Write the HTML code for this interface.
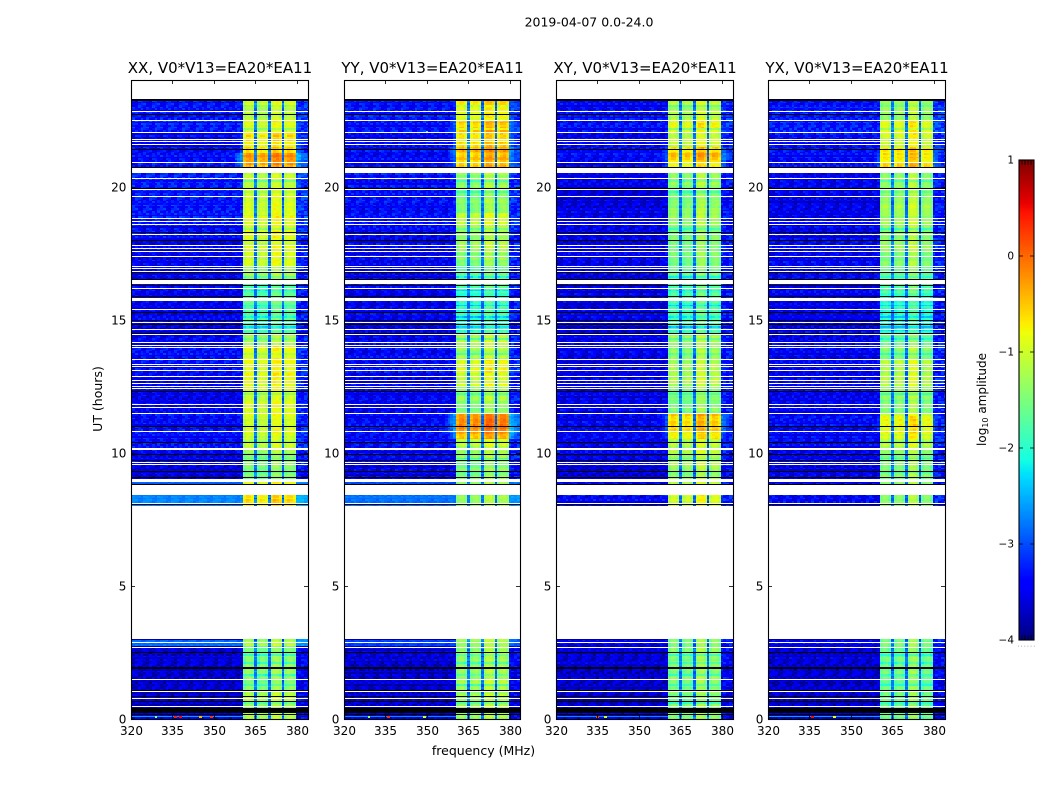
<!DOCTYPE html>
<html>
<head>
<meta charset="utf-8">
<title>2019-04-07 0.0-24.0</title>
<style>
html,body{margin:0;padding:0;background:#fff;width:1050px;height:800px;overflow:hidden}
svg{display:block}
text{font-family:"DejaVu Sans","Liberation Sans",sans-serif;fill:#000}
</style>
</head>
<body>
<svg id="figure" xmlns="http://www.w3.org/2000/svg" width="1050" height="800" viewBox="0 0 1050 800">
  <text x="589" y="26.5" font-size="12.5" text-anchor="middle">2019-04-07 0.0-24.0</text>
  <text x="483.5" y="755" font-size="12.5" text-anchor="middle">frequency (MHz)</text>
  <text x="0" y="0" font-size="12.5" text-anchor="middle" transform="translate(102,399) rotate(-90)">UT (hours)</text>
  <text x="0" y="0" font-size="12" text-anchor="middle" transform="translate(986,399.5) rotate(-90)">log<tspan font-size="8" dy="2">10</tspan><tspan dy="-2"> amplitude</tspan></text>
  <g id="panels"></g>
  <g id="colorbar"></g>
</svg>
<script>
// ---- chart data ----
const panelLabels = ['XX', 'YY', 'XY', 'YX'];
const baselineLabel = 'V0*V13=EA20*EA11';
const xTickValues = [320, 335, 350, 365, 380];
const yTickValues = [0, 5, 10, 15, 20];
const colorbarTickValues = [-4, -3, -2, -1, 0, 1];

// Time slots (UT hours): start of each slot; the last value closes the final slot.
const slotEdges = [0,1,2,2.72,3,8,8.5,9,9.5,10,10.25,10.5,10.75,11.25,11.5,12,12.5,13,13.5,14,14.5,15,15.5,16,16.5,17,17.5,18,18.5,19,19.5,20,20.75,21,21.25,21.5,22,22.5,23,23.3];
const slotSkipped = 4; // slot starting at 3 h holds no data

// Sub-band log10 amplitude per slot (slot at 3 h excluded).
const bandLevelsXX = [-1.3,-1.5,-1.55,-1.35,-.75,-.85,-1.55,-1.5,-1.3,-1.15,-1.1,-1.05,-1.05,-1.05,-1.05,-.95,-.95,-.95,-1.25,-1.9,-1.8,-1.75,-1.85,-1.4,-1.05,-1.05,-1,-1,-1.05,-1.05,-1.2,-.45,-.3,-.75,-.8,-1,-1.2,-1.05];
const bandLevelsYY = [-1.35,-1.35,-1.4,-1.35,-1.4,-1.5,-1.5,-1.5,-1.3,-1.1,-.45,-.25,-.3,-1.45,-1.4,-1.05,-1,-1.3,-1.3,-2,-2,-2,-1.9,-1.75,-1.5,-1.35,-1.35,-1.15,-1.45,-1.55,-1.4,-.6,-.55,-.45,-.75,-.6,-.95,-.75];
const bandLevelsXY = [-1.5,-1.5,-1.5,-1.45,-1,-1.2,-1.35,-1.3,-1.2,-1.1,-.85,-.65,-.6,-1.55,-1.5,-1.25,-1.25,-1.4,-1.35,-1.9,-1.85,-1.85,-1.75,-1.7,-1.55,-1.5,-1.55,-1.35,-1.45,-1.5,-1.4,-.75,-.55,-.7,-1.1,-.95,-1.25,-1.15];
const bandLevelsYX = [-1.6,-1.6,-1.6,-1.55,-1.45,-1.4,-1.5,-1.5,-1.3,-1.2,-1,-.85,-.95,-1.5,-1.4,-1.2,-1.2,-1.5,-1.6,-2.1,-2,-2,-1.7,-1.65,-1.5,-1.4,-1.45,-1.3,-1.3,-1.4,-1.4,-.7,-.7,-.8,-1.05,-.95,-1.35,-1.3];

// Off-band background log10 amplitude per slot.
const bgLevelsXX = [-3.6,-3.6,-3.55,-2.8,-2.65,-2.8,-3.5,-3.4,-3.35,-3.3,-3.3,-3.3,-3.35,-3.4,-3.4,-3.4,-3.3,-3.3,-3.35,-3.45,-3.4,-3.45,-3.4,-3.4,-3.4,-3.4,-3.3,-3.25,-3.25,-3.2,-3.2,-3.3,-3.3,-3.35,-3.4,-3.2,-3.25,-3.3];
const bgLevelsYY = [-3.6,-3.6,-3.55,-3,-2.75,-2.95,-3.45,-3.4,-3.35,-3.3,-3.3,-3.3,-3.35,-3.4,-3.4,-3.4,-3.35,-3.35,-3.4,-3.45,-3.4,-3.45,-3.4,-3.4,-3.4,-3.4,-3.35,-3.3,-3.3,-3.3,-3.3,-3.35,-3.35,-3.3,-3.4,-3.25,-3.25,-3.3];
const bgLevelsXY = [-3.6,-3.6,-3.55,-3.4,-3.35,-3.4,-3.5,-3.45,-3.4,-3.4,-3.4,-3.4,-3.4,-3.45,-3.45,-3.45,-3.45,-3.45,-3.45,-3.5,-3.45,-3.5,-3.45,-3.45,-3.45,-3.45,-3.45,-3.45,-3.5,-3.5,-3.45,-3.4,-3.35,-3.35,-3.4,-3.3,-3.3,-3.35];
const bgLevelsYX = [-3.6,-3.6,-3.55,-3.4,-3.35,-3.4,-3.45,-3.4,-3.4,-3.35,-3.35,-3.35,-3.35,-3.4,-3.4,-3.4,-3.4,-3.4,-3.4,-3.45,-3.4,-3.45,-3.4,-3.4,-3.4,-3.4,-3.4,-3.4,-3.45,-3.45,-3.4,-3.35,-3.3,-3.3,-3.35,-3.2,-3.2,-3.3];

// Per-panel offset of each of the four sub-bands relative to the slot level.
const subBandOffsetsXX = [0,-.1,.12,.02];
const subBandOffsetsYY = [-.05,-.05,.15,.05];
const subBandOffsetsXY = [-.05,-.1,.15,0];
const subBandOffsetsYX = [-.05,-.05,.18,-.1];

// Hours where the sub-bands dim briefly (dark wisps across the bands) and how far, in dex.
const bandDipHours = [.62,1.25,1.65,2.12,2.4,8.95,9.3,9.8,10.4,12.2,13.7,14.25,14.7,15.1,15.55,16.1,16.6,18.4,19.75,20.2,22.15,23.05];
const bandDipDepth = .4;

// Spectral layout, one channel = 1 MHz starting at 320 MHz.
const subBandChannels = [[41,44],[46,49],[51,54],[56,59]];
const subBandShape = [-.05,.12,.12,-.02];
const gapChannels = [45,50,55];
const gapLevels = [-2.8,-2.85,-2.9];
const leftRolloff = [3.45,3.35,3.15,2.95,2.75,2.55,2.35];
const rightRolloff = [2.15,2.25,2.45,2.55,2.65];
const channelCount = 64;
const rowsPerHour = 16;

// Estimated speckle read from the image grain.
const grain = [.12,-.2,.31,-.05,-.28,.18,.04,-.33,.24,-.11,.29,-.16,.07,-.24,.35,-.02,-.3,.15,.21,-.09,-.19,.26,-.27,.1,.02,-.14,.33,-.22,.08,-.06,.17,-.34,.27,.01,-.12];
const rowGrain = [.04,-.09,.12,-.02,.07,-.12,.1,-.05,.01,.09,-.1,.06,-.07,.13,-.03,-.11,.08];

// Flagged rows, hours.
const whiteLineHours = [22.83,22.5,22.02,21.78,21.68,21.58,20.91,20.29,19.9,19.62,18.81,18.7,18.57,18.19,17.77,17.66,17.56,17.36,17.01,16.91,16.83,16.16,15.37,14.88,14.62,14.44,14.13,14.05,13.96,13.49,13.33,13.23,13.08,12.85,12.71,12.59,12.5,12.4,11.81,11.7,11.46,10.81,9.64,9.57,2.89,1.47,1.03,.76,.46];
const whiteBlockStarts = [20.5,16.35,15.69,10.12,8.89,8.41,8.08,3,2.65];
const whiteBlockEnds = [20.69,16.47,15.83,10.19,9.03,8.77,8.12,8,2.72];
const blackLineHours = [22.71,21.38,20.72,19.94,18.28,17.98,16.76,16.51,16.29,15.86,15.29,14.98,14.83,14.48,12.3,11,10.37,9.95,9.72,9.31,9.06,8.8,8.06,2.52,1.09,.85,.66,.19];
const blackBlockStarts = [23.22,1.86,.23];
const blackBlockEnds = [23.3,1.96,.43];

// Narrow off-band rows differing from their surroundings: panel, hour from, hour to, level.
const brightRowPanels = [0,1,2,3,1,3,0,1,2,3];
const brightRowFrom = [.07,.07,.07,.07,20.7,20.7,2.95,2.95,2.95,2.95];
const brightRowTo = [.11,.11,.11,.11,20.74,20.74,3,3,3,3];
const brightRowLevels = [-2.6,-2.7,-2.7,-2.6,-2.7,-2.7,-3.9,-3.9,-3.9,-3.9];

// Isolated hot pixels: panel, hour, MHz, level.
const spikePanels = [0,0,0,0,0,1,1,1,2,2,3,3,1,1,3,0,1];
const spikeHours = [.08,.08,.08,.08,.08,.08,.08,.08,.08,.08,.08,.08,20.72,20.72,20.72,20.72,22.05];
const spikeFreqs = [329,336,338,345,349,329,336,349,335,338,336,344,335,347,335,336,350];
const spikeLevels = [-1.2,.4,.5,-.4,.3,-1.2,.3,-1,.2,-1,.5,-.8,.7,-1.6,.5,-.6,-1.9];

// ---- assembled by panel ----
const bandLevels = [bandLevelsXX, bandLevelsYY, bandLevelsXY, bandLevelsYX];
const bgLevels = [bgLevelsXX, bgLevelsYY, bgLevelsXY, bgLevelsYX];
const subBandOffsets = [subBandOffsetsXX, subBandOffsetsYY, subBandOffsetsXY, subBandOffsetsYX];

// ---- layout ----
const panelLefts = [131, 344, 556, 768];
const panelWidths = [177, 176, 177, 177];
const axisTop = 80, axisBottom = 719;
const cbLeft = 1019, cbRight = 1034, cbTop = 160, cbBottom = 640;
const SVGNS = 'http://www.w3.org/2000/svg';

function xScale(p, f) { return panelLefts[p] + (f - 320) / 64 * 177; }
function yScale(h) { return axisBottom - h / 24 * (axisBottom - axisTop); }
function cbScale(v) { return cbBottom - (v + 4) / 5 * (cbBottom - cbTop); }

function jetChannel(t, pts) {
  for (let i = 1; i < pts.length; i++) {
    if (t <= pts[i][0]) {
      const a = pts[i - 1], b = pts[i];
      return a[1] + (b[1] - a[1]) * (t - a[0]) / (b[0] - a[0]);
    }
  }
  return pts[pts.length - 1][1];
}
const jetR = [[0,0],[.35,0],[.66,1],[.89,1],[1,.5]];
const jetG = [[0,0],[.125,0],[.375,1],[.64,1],[.91,0],[1,0]];
const jetB = [[0,.5],[.11,1],[.34,1],[.65,0],[1,0]];
function jetColor(t) {
  t = Math.max(0, Math.min(1, t));
  return 'rgb(' + Math.round(255 * jetChannel(t, jetR)) + ',' + Math.round(255 * jetChannel(t, jetG)) + ',' + Math.round(255 * jetChannel(t, jetB)) + ')';
}
function levelColor(v) { return jetColor((v + 4) / 5); }

function slotIndex(h) {
  let s = 0;
  for (let i = 0; i < slotEdges.length - 1; i++) { if (h >= slotEdges[i]) s = i; }
  if (s === slotSkipped) return -1;
  return s > slotSkipped ? s - 1 : s;
}

function isDipRow(h0, h1) {
  return bandDipHours.some(function (d) { return d >= h0 && d < h1; });
}

function cellLevel(p, s, r, i) {
  const level = bandLevels[p][s], bg = bgLevels[p][s];
  const g = grain[(i * 7 + r * 13 + p * 5) % grain.length];
  const rg = rowGrain[(r * 3 + p) % rowGrain.length];
  const dip = isDipRow(r / rowsPerHour, (r + 1) / rowsPerHour);
  for (let b = 0; b < subBandChannels.length; b++) {
    const c = subBandChannels[b];
    if (i >= c[0] && i <= c[1]) {
      return level + subBandOffsets[p][b] + subBandShape[i - c[0]] + g * .28 + rg * .8 - (dip ? bandDipDepth : 0);
    }
  }
  const gi = gapChannels.indexOf(i);
  if (gi >= 0) return gapLevels[gi] + g * .5 + rg;
  const quiet = bg < -3 ? 1 : .35;
  let v = bg - .08 + g * .85 * quiet + rg * .5 * quiet;
  if (i >= 34 && i <= 40) v = Math.max(v, level - leftRolloff[i - 34] + g * .4);
  if (i >= 60) v = Math.max(v + .2, level - rightRolloff[i - 60] + g * .4);
  return v;
}

function drawPanel(p) {
  const root = document.getElementById('panels');
  const gp = document.createElementNS(SVGNS, 'g');
  
  
  root.appendChild(gp);

  const clipId = 'clip-' + p;
  const clip = document.createElementNS(SVGNS, 'clipPath');
  clip.setAttribute('id', clipId);
  const clipRect = document.createElementNS(SVGNS, 'rect');
  clipRect.setAttribute('x', panelLefts[p]);
  clipRect.setAttribute('y', axisTop);
  clipRect.setAttribute('width', panelWidths[p]);
  clipRect.setAttribute('height', axisBottom - axisTop);
  clip.appendChild(clipRect);
  gp.appendChild(clip);

  const cells = document.createElementNS(SVGNS, 'g');
  cells.setAttribute('clip-path', 'url(#' + clipId + ')');
  cells.setAttribute('shape-rendering', 'crispEdges');
  
  
  gp.appendChild(cells);

  // Heatmap cells, grouped into one path per colour step.
  const buckets = {};
  const hourTop = slotEdges[slotEdges.length - 1];
  const rowTotal = Math.ceil(hourTop * rowsPerHour);
  for (let r = 0; r < rowTotal; r++) {
    const h0 = r / rowsPerHour, h1 = Math.min((r + 1) / rowsPerHour, hourTop);
    const s = slotIndex(h0);
    if (s < 0 || h0 >= 3 && h0 < 8) continue;
    const y0 = Math.round(yScale(h1)), y1 = Math.round(yScale(h0));
    for (let i = 0; i <= channelCount; i++) {
      const v = cellLevel(p, s, r, i);
      const x0 = Math.round(xScale(p, 319.5 + i)), x1 = Math.round(xScale(p, 320.5 + i));
      const key = Math.round(Math.max(0, Math.min(1, (v + 4) / 5)) * 160);
      buckets[key] = (buckets[key] || '') + 'M' + x0 + ' ' + y0 + 'H' + x1 + 'V' + y1 + 'H' + x0 + 'Z';
    }
  }
  Object.keys(buckets).forEach(function (key) {
    const path = document.createElementNS(SVGNS, 'path');
    path.setAttribute('d', buckets[key]);
    path.setAttribute('fill', jetColor(key / 160));
    
    
    cells.appendChild(path);
  });

  function band(f0, f1, h0, h1, color, name) {
    const rect = document.createElementNS(SVGNS, 'rect');
    const x0 = Math.round(xScale(p, f0)), x1 = Math.round(xScale(p, f1));
    const y0 = Math.round(yScale(h1));
    const y1 = Math.max(y0 + 1, Math.round(yScale(h0)));
    rect.setAttribute('x', x0);
    rect.setAttribute('y', y0);
    rect.setAttribute('width', Math.max(1, x1 - x0));
    rect.setAttribute('height', y1 - y0);
    rect.setAttribute('fill', color);
    
    
    cells.appendChild(rect);
  }

  brightRowPanels.forEach(function (bp, k) {
    if (bp === p) band(320, 360.5, brightRowFrom[k], brightRowTo[k], levelColor(brightRowLevels[k]), 'bright-row');
  });
  spikePanels.forEach(function (sp, k) {
    if (sp === p) band(spikeFreqs[k] - .5, spikeFreqs[k] + .5, spikeHours[k] - .03, spikeHours[k] + .03, levelColor(spikeLevels[k]), 'hot-pixel');
  });
  blackLineHours.forEach(function (h) { band(320, 384, h - .015, h + .015, '#000', 'flagged-row-black'); });
  blackBlockStarts.forEach(function (h, k) { band(320, 384, h, blackBlockEnds[k], '#000', 'flagged-block-black'); });
  whiteLineHours.forEach(function (h) { band(320, 384, h - .015, h + .015, '#fff', 'flagged-row-white'); });
  whiteBlockStarts.forEach(function (h, k) { band(320, 384, h, whiteBlockEnds[k], '#fff', 'flagged-block-white'); });

  // Frame, ticks, labels.
  const frame = document.createElementNS(SVGNS, 'rect');
  frame.setAttribute('x', panelLefts[p] + .5);
  frame.setAttribute('y', axisTop + .5);
  frame.setAttribute('width', panelWidths[p]);
  frame.setAttribute('height', axisBottom - axisTop);
  frame.setAttribute('fill', 'none');
  frame.setAttribute('stroke', '#000');
  frame.setAttribute('stroke-width', '1.1');
  
  
  gp.appendChild(frame);

  function tick(x1, y1, x2, y2, name) {
    const line = document.createElementNS(SVGNS, 'line');
    line.setAttribute('x1', x1);
    line.setAttribute('y1', y1);
    line.setAttribute('x2', x2);
    line.setAttribute('y2', y2);
    line.setAttribute('stroke', '#000');
    line.setAttribute('stroke-width', '.8');
    
    
    gp.appendChild(line);
  }
  function label(str, x, y, anchor, size, name) {
    const t = document.createElementNS(SVGNS, 'text');
    t.setAttribute('x', x);
    t.setAttribute('y', y);
    t.setAttribute('text-anchor', anchor);
    t.setAttribute('font-size', size);
    
    
    t.textContent = str;
    gp.appendChild(t);
  }

  xTickValues.forEach(function (f) {
    const x = Math.round(xScale(p, f)) + .5;
    tick(x, axisBottom, x, axisBottom - 4, 'x-tick');
    tick(x, axisTop, x, axisTop + 4, 'x-tick-top');
    label(String(f), x, axisBottom + 16, 'middle', 12, 'x-tick-label');
  });
  yTickValues.forEach(function (h) {
    const y = Math.round(yScale(h)) + .5;
    tick(panelLefts[p], y, panelLefts[p] + 4, y, 'y-tick');
    tick(panelLefts[p] + panelWidths[p], y, panelLefts[p] + panelWidths[p] - 4, y, 'y-tick-right');
    label(String(h), panelLefts[p] - 4.6, y + 4, 'end', 12, 'y-tick-label');
  });
  label(panelLabels[p] + ', ' + baselineLabel, panelLefts[p] + panelWidths[p] / 2 + .5, axisTop - 7, 'middle', 15, 'panel-title');
}

function drawColorbar() {
  const gc = document.getElementById('colorbar');
  const steps = [];
  for (let k = 0; k < 240; k++) steps.push(k);
  steps.forEach(function (k) {
    const v0 = -4 + k / 240 * 5, v1 = -4 + (k + 1) / 240 * 5;
    const rect = document.createElementNS(SVGNS, 'rect');
    rect.setAttribute('x', cbLeft);
    rect.setAttribute('y', cbScale(v1));
    rect.setAttribute('width', cbRight - cbLeft);
    rect.setAttribute('height', cbScale(v0) - cbScale(v1));
    rect.setAttribute('fill', levelColor((v0 + v1) / 2));
    rect.setAttribute('shape-rendering', 'crispEdges');
    
    
    gc.appendChild(rect);
  });
  function tick(x1, y1, x2, y2) {
    const line = document.createElementNS(SVGNS, 'line');
    line.setAttribute('x1', x1);
    line.setAttribute('y1', y1);
    line.setAttribute('x2', x2);
    line.setAttribute('y2', y2);
    line.setAttribute('stroke', '#000');
    line.setAttribute('stroke-width', '.8');
    
    
    gc.appendChild(line);
  }
  colorbarTickValues.forEach(function (v) {
    const y = Math.round(cbScale(v));
    tick(cbLeft, y, cbLeft + 4, y);
    tick(cbRight, y, cbRight - 4, y);
    const t = document.createElementNS(SVGNS, 'text');
    t.setAttribute('x', cbLeft - 5);
    t.setAttribute('y', y + 3.5);
    t.setAttribute('text-anchor', 'end');
    t.setAttribute('font-size', '10.5');
    
    
    t.textContent = (v < 0 ? '\u2212' + (-v) : String(v));
    gc.appendChild(t);
  });
  [3, 6, 9, 12].forEach(function (dx) {
    tick(cbLeft + dx, cbTop, cbLeft + dx, cbTop + 5);
    tick(cbLeft + dx, cbBottom, cbLeft + dx, cbBottom - 5);
  });
  const frame = document.createElementNS(SVGNS, 'rect');
  frame.setAttribute('x', cbLeft);
  frame.setAttribute('y', cbTop);
  frame.setAttribute('width', cbRight - cbLeft);
  frame.setAttribute('height', cbBottom - cbTop);
  frame.setAttribute('fill', 'none');
  frame.setAttribute('stroke', '#000');
  frame.setAttribute('stroke-width', '1.1');
  
  
  gc.appendChild(frame);
  const dots = document.createElementNS(SVGNS, 'text');
  dots.setAttribute('x', (cbLeft + cbRight) / 2 + .5);
  dots.setAttribute('y', cbBottom + 6.5);
  dots.setAttribute('text-anchor', 'middle');
  dots.setAttribute('font-size', '6');
  dots.setAttribute('letter-spacing', '1.2');
  dots.setAttribute('style', 'fill:#555');
  
  
  dots.textContent = '......';
  gc.appendChild(dots);
}

panelLabels.forEach(function (name, p) { drawPanel(p); });
drawColorbar();
</script>
</body>
</html>
